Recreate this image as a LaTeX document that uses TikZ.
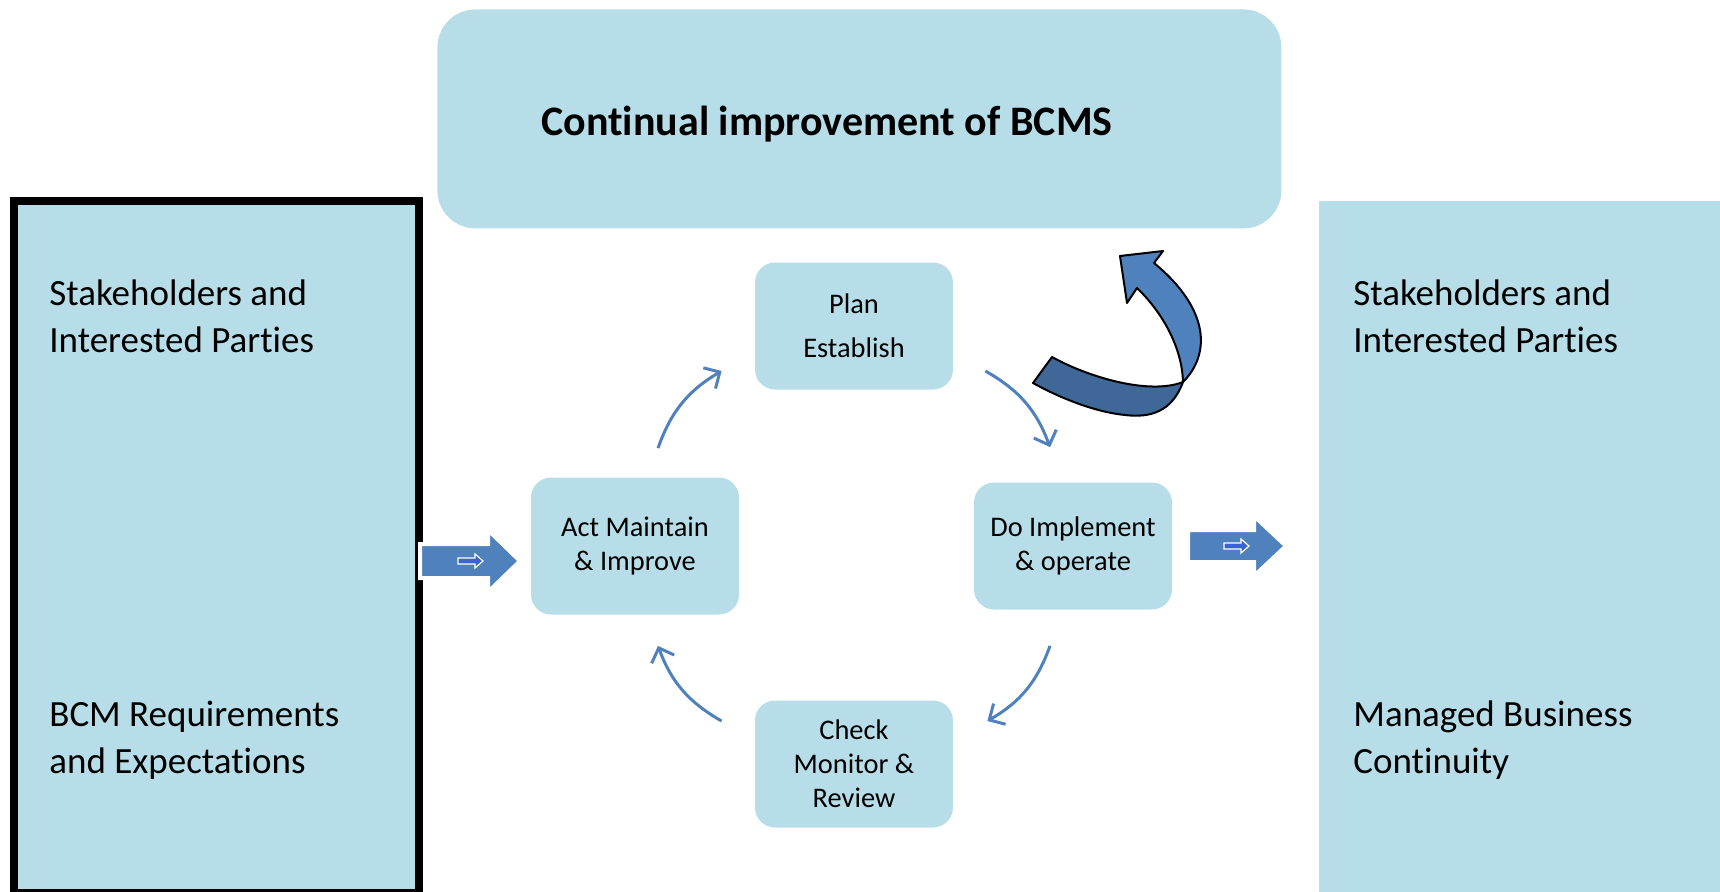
\documentclass[tikz,border=0pt]{standalone}
\usepackage{fontspec}
\setmainfont{Carlito}[Ligatures={NoCommon,NoContextual,NoRare},Contextuals=NoAlternate]
\usetikzlibrary{arrows.meta}
\definecolor{Pale}{HTML}{B7DEE8}
\definecolor{Steel}{HTML}{4F81BD}
\definecolor{Deep}{HTML}{3F6797}
\definecolor{Bright}{HTML}{3A66CC}

\begin{document}
\begin{tikzpicture}[x=0.5pt,y=-0.5pt,
    side/.style={fill=Pale,anchor=north west,minimum width=203pt,minimum height=346pt,inner sep=0pt},
    sidetext/.style={anchor=base west,align=left,inner sep=0pt,font=\fontsize{18.5}{23.5}\selectfont},
    stage/.style={fill=Pale,rounded corners=10pt,minimum width=99pt,minimum height=63.5pt,align=center,inner sep=0pt,font=\fontsize{14.2}{17}\selectfont},
    cyc/.style={-{Straight Barb[length=6pt,width=12pt]},line width=1.5pt,draw=Steel,bend left=20},
    block/.style={fill=Steel,draw=white,line width=2pt},
    tiny/.style={fill=Bright,draw=white,line width=0.6pt},
    ribbon/.style={draw=black,line width=1pt,line join=round}
  ]
    \useasboundingbox (0,0) rectangle (1720,891);
    % side panels (text sits on the baseline of its last line)
    \node[side,draw=black,line width=3.75pt,minimum width=202.5pt] (inputs) at (10,197) {};
    \node[side] (outputs) at (1319,201) {};
    \node[sidetext] (instake) at (49,352) {Stakeholders and\\Interested Parties};
    \node[sidetext] (inreq) at (49,773) {BCM Requirements\\and Expectations};
    \node[sidetext] (outstake) at (1353,352) {Stakeholders and\\Interested Parties};
    \node[sidetext] (outbcm) at (1353,773) {Managed Business\\Continuity};
    % improvement banner
    \node[fill=Pale,rounded corners=19pt,minimum width=422pt,minimum height=109.5pt,anchor=north west] (improve) at (437,9) {};
    \node[anchor=base west,inner sep=0pt,font=\fontsize{21}{25}\selectfont\bfseries] (title) at (541,135) {Continual improvement of BCMS};
    % PDCA stages
    \node[stage] (plan) at (854,326) {Plan\\[5pt]Establish};
    \node[stage] (do) at (1073,546) {Do Implement\\\& operate};
    \node[stage] (check) at (854,764) {Check\\Monitor \&\\Review};
    \node[stage,minimum width=104pt,minimum height=68.5pt] (act) at (635,546) {Act Maintain\\\& Improve};
    \draw[cyc] ([shift={(23,-29)}]act.north) to ([shift={(-33,45)}]plan.west);
    \draw[cyc] ([shift={(32,45)}]plan.east) to ([shift={(-23,-35)}]do.north);
    \draw[cyc] ([shift={(-23,36)}]do.south) to ([shift={(34,-43)}]check.east);
    \draw[cyc] ([shift={(-33,-43)}]check.west) to ([shift={(23,31)}]act.south);
    % block arrows in and out
    \path[block] (420,544) -- (488,544) -- (488,530) -- (520,561) -- (488,592) -- (488,578) -- (420,578) -- cycle;
    \path[tiny] (458,558) -- (475,558) -- (475,554) -- (483,561) -- (475,568) -- (475,564) -- (458,564) -- cycle;
    \path[block] (1188,530) -- (1254,530) -- (1254,516) -- (1286,546) -- (1254,576) -- (1254,562) -- (1188,562) -- cycle;
    \path[tiny] (1224,543) -- (1241,543) -- (1241,539) -- (1249,546) -- (1241,553) -- (1241,549) -- (1224,549) -- cycle;
    % curved ribbon arrow up to the banner
    \path[ribbon,fill=Deep] (1033,383) -- (1052,357) .. controls (1090,378) and (1150,395) .. (1183,382)
      .. controls (1172,412) and (1150,418) .. (1125,415) .. controls (1095,412) and (1060,398) .. (1033,383) -- cycle;
    \path[ribbon,fill=Steel] (1120,256) -- (1163,251) -- (1154,263) .. controls (1211,310) and (1210,355) .. (1183,382)
      .. controls (1182,345) and (1160,310) .. (1137,288) -- (1127,303) -- cycle;
  \end{tikzpicture}
\end{document}
